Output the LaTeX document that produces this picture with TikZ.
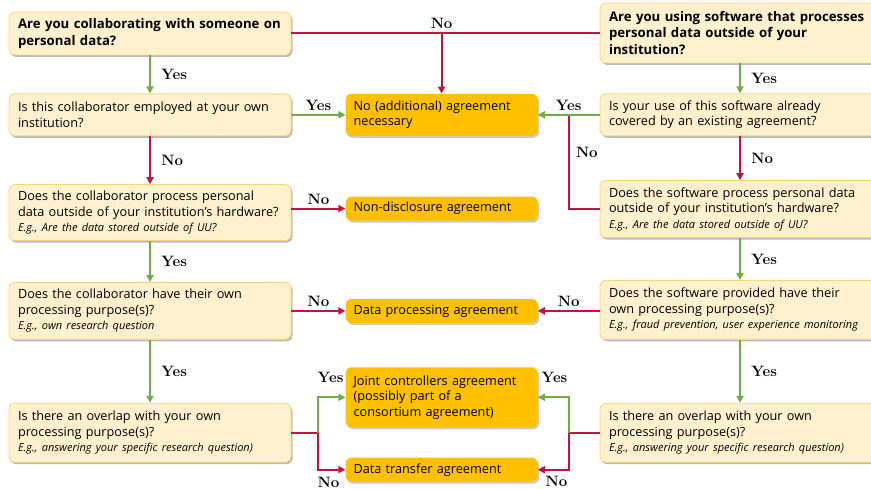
\documentclass[tikz,border=0pt]{standalone}
\usepackage{fontspec}
\newfontfamily\boxfont{Open Sans}
\usepackage{xcolor}
\definecolor{creamfill}{RGB}{255, 241, 206}
\definecolor{creamdraw}{RGB}{248, 214, 120}
\definecolor{goldfill}{RGB}{255, 192, 0}
\definecolor{yesgreen}{RGB}{112, 173, 71}
\definecolor{nored}{RGB}{200, 16, 62}
\usepackage{tikz}
\usetikzlibrary{positioning, arrows.meta, shadows, calc}
\newcommand{\hint}[1]{\\{\itshape\fontsize{11}{13.5}\selectfont #1}}
\tikzset{
    questionbox/.style={
        draw=creamdraw,
        fill=creamfill,
        line width=0.8pt,
        rounded corners=6pt,
        drop shadow={shadow xshift=1.5pt, shadow yshift=-2pt, opacity=0.45, fill=black!60},
        text width=264pt,
        inner xsep=9pt,
        inner ysep=0pt,
        minimum height=42pt,
        align=left,
        font=\boxfont\fontsize{12.7}{15.5}\selectfont
    },
    titlebox/.style={
        questionbox,
        font=\boxfont\bfseries\fontsize{13.2}{16.5}\selectfont
    },
    outcomebox/.style={
        fill=goldfill,
        rounded corners=6pt,
        drop shadow={shadow xshift=1.5pt, shadow yshift=-2pt, opacity=0.35, fill=black!60},
        text width=176pt,
        inner xsep=8pt,
        inner ysep=0pt,
        minimum height=24pt,
        align=left,
        font=\boxfont\fontsize{12.7}{15.5}\selectfont
    },
    yesarrow/.style={
        -{Triangle[length=7pt,width=7pt]},
        line width=2pt,
        yesgreen
    },
    noarrow/.style={
        -{Triangle[length=7pt,width=7pt]},
        line width=2pt,
        nored
    },
    noline/.style={
        line width=2pt,
        nored
    },
    lbl/.style={
        font=\fontsize{15}{17}\selectfont\bfseries,
        text=black
    }
}
\begin{document}
\begin{tikzpicture}
\useasboundingbox (0,0) rectangle (871pt,-489pt);

% ---------------------------------------------------------
% Questions: collaborator (left)
% ---------------------------------------------------------
\node[titlebox, minimum height=43pt] (collab) at (150pt,-33.5pt) {%
    Are you collaborating with someone on\\
    personal data?};

\node[questionbox, below=38pt of collab] (employed) {%
    Is this collaborator employed at your own\\
    institution?};

\node[questionbox, below=48pt of employed, minimum height=56pt] (outside) {%
    Does the collaborator process personal\\
    data outside of your institution’s hardware?%
    \hint{E.g., Are the data stored outside of UU?}};

\node[questionbox, below=41pt of outside, minimum height=57pt] (purpose) {%
    Does the collaborator have their own\\
    processing purpose(s)?%
    \hint{E.g., own research question}};

\node[questionbox, below=63pt of purpose, minimum height=59pt] (overlap) {%
    Is there an overlap with your own\\
    processing purpose(s)?%
    \hint{E.g., answering your specific research question)}};

% ---------------------------------------------------------
% Questions: software (right)
% ---------------------------------------------------------
\node[titlebox, text width=262pt, minimum height=60pt] (software) at (740pt,-33pt) {%
    Are you using software that processes\\
    personal data outside of your\\
    institution?};

\node[questionbox, text width=262pt, below=30pt of software] (covered) {%
    Is your use of this software already\\
    covered by an existing agreement?};

\node[questionbox, text width=262pt, below=44pt of covered, minimum height=57pt] (swoutside) {%
    Does the software process personal data\\
    outside of your institution’s hardware?%
    \hint{E.g., Are the data stored outside of UU?}};

\node[questionbox, text width=262pt, below=42pt of swoutside, minimum height=59pt] (swpurpose) {%
    Does the software provided have their\\
    own processing purpose(s)?%
    \hint{E.g., fraud prevention, user experience monitoring}};

\node[questionbox, text width=262pt, below=63pt of swpurpose, minimum height=59pt] (swoverlap) {%
    Is there an overlap with your own\\
    processing purpose(s)?%
    \hint{E.g., answering your specific research question)}};

% ---------------------------------------------------------
% Outcomes (middle)
% ---------------------------------------------------------
\node[outcomebox, right=54pt of employed, minimum height=42pt] (noagree) {%
    No (additional) agreement\\
    necessary};

\node[outcomebox, right=54pt of outside, yshift=4pt] (nda) {Non-disclosure agreement};

\node[outcomebox, right=54pt of purpose] (dpa) {Data processing agreement};

\node[outcomebox, below=44pt of dpa, minimum height=60pt] (joint) {%
    Joint controllers agreement\\
    (possibly part of a\\
    consortium agreement)};

\node[outcomebox, below=30pt of joint] (transfer) {Data transfer agreement};

% ---------------------------------------------------------
% Arrows
% ---------------------------------------------------------
\coordinate (swjoin) at ($(noagree.east)!0.5!(covered.west)$);
\coordinate (ljoin) at ($(overlap.east)!0.5!(overlap.east -| joint.west)$);
\coordinate (rjoin) at ($(swoverlap.west)!0.5!(swoverlap.west -| joint.east)$);

% top row
\draw[noline] (collab.east) -- (collab.east -| software.west);
\draw[noarrow] (collab.east -| noagree.north) node[lbl, above=1pt]{No} -- (noagree);
\draw[yesarrow] (collab) -- node[lbl, right=7pt]{Yes} (employed);
\draw[yesarrow] (software) -- node[lbl, right=7pt]{Yes} (covered);

% no agreement needed
\draw[noline] (swoutside.west) -| node[lbl, right=3pt, pos=0.8]{No} (swjoin);
\draw[yesarrow] (employed) -- node[lbl, above]{Yes} (noagree);
\draw[yesarrow] (covered) -- node[lbl, above]{Yes} (noagree);

% hardware
\draw[noarrow] (employed) -- node[lbl, right=7pt]{No} (outside);
\draw[noarrow] (covered) -- node[lbl, right=7pt]{No} (swoutside);
\draw[noarrow] (outside.east |- nda) -- node[lbl, above]{No} (nda);
\draw[yesarrow] (outside) -- node[lbl, right=7pt]{Yes} (purpose);
\draw[yesarrow] (swoutside) -- node[lbl, right=7pt]{Yes} (swpurpose);

% purposes
\draw[noarrow] (purpose.east |- dpa) -- node[lbl, above]{No} (dpa);
\draw[noarrow] (swpurpose.west |- dpa) -- node[lbl, above]{No} (dpa);
\draw[yesarrow] (purpose) -- node[lbl, right=7pt]{Yes} (overlap);
\draw[yesarrow] (swpurpose) -- node[lbl, right=7pt]{Yes} (swoverlap);

% overlap
\draw[noline] (overlap.east) -- (ljoin);
\draw[yesarrow] (ljoin) |- node[lbl, pos=0.5, anchor=south west, xshift=-5pt, yshift=10pt]{Yes} (joint.west);
\draw[noarrow] (ljoin) |- node[lbl, pos=0.5, anchor=north west, xshift=-5pt, yshift=-3pt]{No} (transfer.west);
\draw[noline] (swoverlap.west) -- (rjoin);
\draw[yesarrow] (rjoin) |- node[lbl, pos=0.5, anchor=south east, xshift=3pt, yshift=10pt]{Yes} (joint.east);
\draw[noarrow] (rjoin) |- node[lbl, pos=0.5, anchor=north east, xshift=3pt, yshift=-2.5pt]{No} (transfer.east);

\end{tikzpicture}
\end{document}
